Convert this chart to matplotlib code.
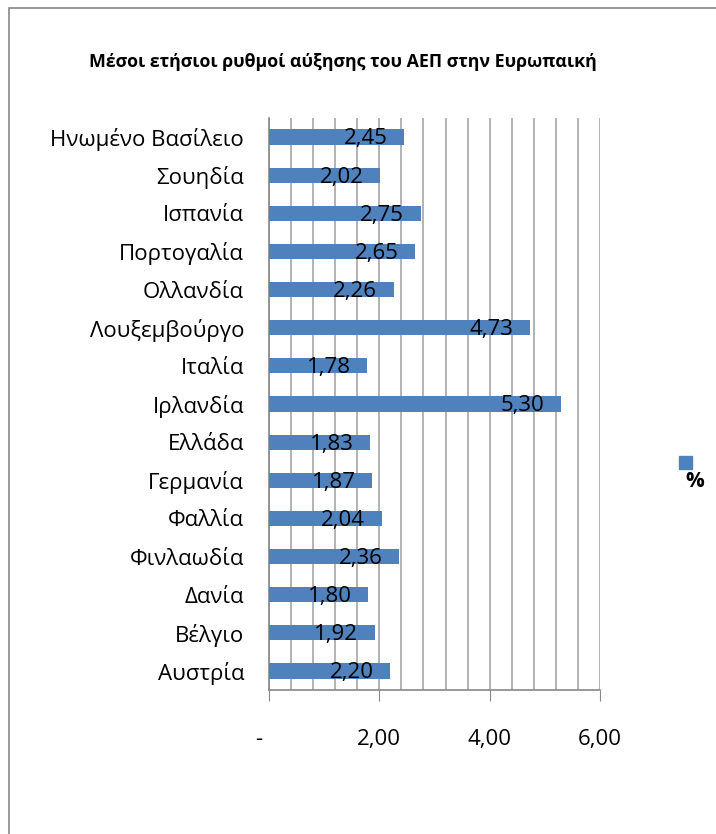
import matplotlib.pyplot as plt
from matplotlib.patches import Rectangle
import numpy as np

countries = ['Αυστρία', 'Βέλγιο', 'Δανία', 'Φινλαωδία', 'Φαλλία', 'Γερμανία',
             'Ελλάδα', 'Ιρλανδία', 'Ιταλία', 'Λουξεμβούργο', 'Ολλανδία',
             'Πορτογαλία', 'Ισπανία', 'Σουηδία', 'Ηνωμένο Βασίλειο']
growth = [2.20, 1.92, 1.80, 2.36, 2.04, 1.87, 1.83, 5.30, 1.78, 4.73,
          2.26, 2.65, 2.75, 2.02, 2.45]
x_ticks = [0, 2, 4, 6]
x_tick_labels = ['- ', '2,00', '4,00', '6,00']

plt.rcParams['font.family'] = ['Open Sans', 'DejaVu Sans']

fig = plt.figure(figsize=(7.16, 8.34), dpi=100)
ax = fig.add_axes([269 / 716, 1 - 690 / 834, 331 / 716, 572 / 834])

pos = np.arange(len(countries))
bar_color = '#4F81BD'
ax.barh(pos, growth, height=0.4, color=bar_color, zorder=3, label='%')

for y, v in zip(pos, growth):
    ax.text(v - 0.3, y - 0.05, f'{v:.2f}'.replace('.', ','), ha='right', va='center',
            fontsize=16, color='black', zorder=4)

ax.set_xlim(0, 6)
ax.set_ylim(-0.5, len(countries) - 0.5)
ax.set_yticks(pos)
ax.set_yticklabels(countries, fontsize=16)
ax.tick_params(axis='y', length=0, pad=18)

ax.set_xticks(x_ticks)
ax.set_xticklabels(x_tick_labels, fontsize=16)
ax.get_xticklabels()[0].set_ha('right')
ax.set_xticks(np.arange(0, 6.01, 0.4), minor=True)
ax.tick_params(axis='x', which='major', length=8, color='#888888', pad=20)
ax.tick_params(axis='x', which='minor', length=0)
ax.grid(axis='x', which='both', color='#A6A6A6', linewidth=1.2, zorder=0)

for side in ['top', 'right']:
    ax.spines[side].set_visible(False)
for side in ['left', 'bottom']:
    ax.spines[side].set_color('#888888')
    ax.spines[side].set_linewidth(1.2)

fig.text(343 / 716, 1 - 62 / 834, 'Μέσοι ετήσιοι ρυθμοί αύξησης του ΑΕΠ στην Ευρωπαική',
         ha='center', va='center', fontsize=12.8, fontweight='bold')

# legend
fig.patches.append(Rectangle((679 / 716, 1 - 469 / 834), 13 / 716, 13 / 834,
                             transform=fig.transFigure, color=bar_color))
fig.text(695 / 716, 1 - 482 / 834, '%', ha='center', va='center',
         fontsize=15, fontweight='bold')

# outer frame
fig.patches.append(Rectangle((8.5 / 716, -0.05), 1.1, 1.05 - 7.5 / 834,
                             transform=fig.transFigure, fill=False,
                             edgecolor='#888888', linewidth=1.2))

fig.savefig('out.png', dpi=100)
